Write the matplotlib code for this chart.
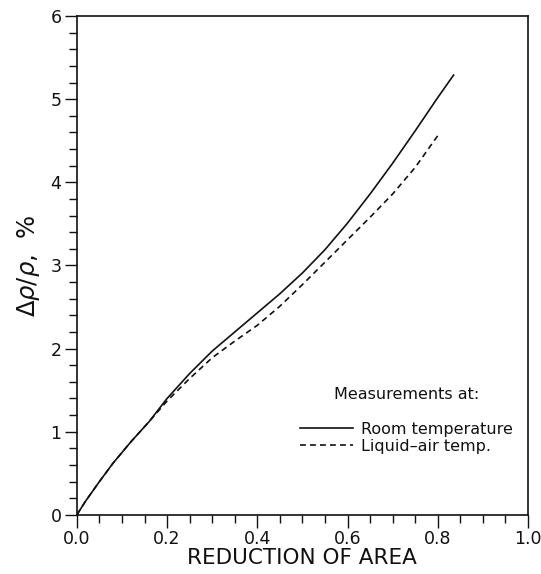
import matplotlib
matplotlib.use("Agg")
import matplotlib.pyplot as plt
from matplotlib.ticker import MultipleLocator, FormatStrFormatter

# Resistivity increase vs. reduction of area
reduction_room = [0.0, 0.02, 0.05, 0.08, 0.12, 0.16, 0.20, 0.25, 0.30, 0.35, 0.40,
                  0.45, 0.50, 0.55, 0.60, 0.65, 0.70, 0.75, 0.80, 0.835]
delta_room = [0.0, 0.17, 0.40, 0.62, 0.88, 1.12, 1.40, 1.70, 1.97, 2.20, 2.43,
              2.66, 2.91, 3.19, 3.51, 3.86, 4.23, 4.62, 5.02, 5.29]

reduction_liquid = [0.0, 0.02, 0.05, 0.08, 0.12, 0.16, 0.20, 0.25, 0.30, 0.35, 0.40,
                    0.45, 0.50, 0.55, 0.60, 0.65, 0.70, 0.75, 0.805]
delta_liquid = [0.0, 0.17, 0.40, 0.62, 0.88, 1.12, 1.37, 1.64, 1.89, 2.09, 2.28,
                2.51, 2.77, 3.04, 3.31, 3.58, 3.86, 4.18, 4.60]

series_labels = ["Room temperature", "Liquid\u2013air temp."]
legend_title = "Measurements at:"
x_label = "REDUCTION OF AREA"
y_label = r"$\Delta\rho/\rho$,  %"

ink = "#111111"
plt.rcParams["font.family"] = ["DejaVu Sans"]

fig = plt.figure(figsize=(5.41, 5.74), dpi=100)
ax = fig.add_axes([0.142, 0.103, 0.834, 0.869])

ax.plot(reduction_room, delta_room, color=ink, lw=1.2, ls="-", label=series_labels[0])
ax.plot(reduction_liquid, delta_liquid, color=ink, lw=1.2, ls=(0, (3.5, 2.5)),
        label=series_labels[1])

ax.set_xlim(0, 1.0)
ax.set_ylim(0, 6)
ax.xaxis.set_major_locator(MultipleLocator(0.2))
ax.xaxis.set_minor_locator(MultipleLocator(0.05))
ax.yaxis.set_major_locator(MultipleLocator(1))
ax.yaxis.set_minor_locator(MultipleLocator(0.2))
ax.xaxis.set_major_formatter(FormatStrFormatter("%.1f"))
ax.yaxis.set_major_formatter(FormatStrFormatter("%d"))

ax.tick_params(which="both", direction="out", color=ink, width=1.0,
               top=False, right=False, labelsize=12.5, labelcolor=ink)
ax.tick_params(which="major", length=9, pad=2)
ax.tick_params(which="minor", length=6)
for sp in ax.spines.values():
    sp.set_color(ink)
    sp.set_linewidth(1.2)

ax.set_xlabel(x_label, fontsize=15.5, color=ink, labelpad=0)
ax.set_ylabel(y_label, fontsize=17.5, color=ink, labelpad=6)

leg = ax.legend(title=legend_title, loc="upper left", bbox_to_anchor=(0.481, 0.269),
                frameon=False, fontsize=11.5, title_fontsize=11.5,
                handlelength=3.3, handletextpad=0.5, labelspacing=0.15,
                borderaxespad=0)
leg.get_title().set_color(ink)
leg._legend_box.sep = 14
for t in leg.get_texts():
    t.set_color(ink)

fig.savefig("out.png", dpi=100)
